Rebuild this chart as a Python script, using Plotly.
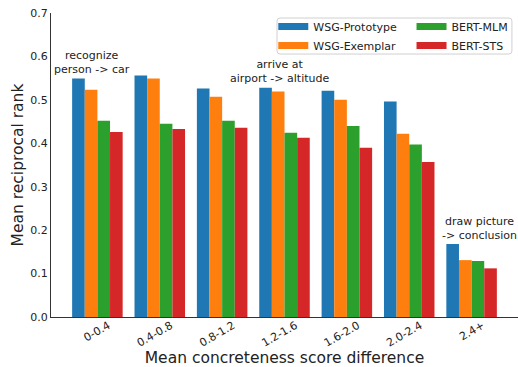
import plotly.graph_objects as go

categories = ["0-0.4", "0.4-0.8", "0.8-1.2", "1.2-1.6", "1.6-2.0", "2.0-2.4", "2.4+"]
wsg_prototype = [0.549, 0.556, 0.526, 0.528, 0.521, 0.496, 0.168]
wsg_exemplar = [0.523, 0.549, 0.507, 0.519, 0.500, 0.422, 0.131]
bert_mlm = [0.452, 0.445, 0.452, 0.424, 0.440, 0.397, 0.129]
bert_sts = [0.426, 0.433, 0.436, 0.413, 0.390, 0.357, 0.112]
series_names = ["WSG-Prototype", "WSG-Exemplar", "BERT-MLM", "BERT-STS"]
series_colors = ["#1f77b4", "#ff7f0e", "#2ca02c", "#d62728"]
y_ticks = [0.0, 0.1, 0.2, 0.3, 0.4, 0.5, 0.6, 0.7]
notes = [("recognize<br>person -> car", 0), ("arrive at<br>airport -> altitude", 3),
         ("draw picture<br>-> conclusion", 6)]
note_shift = [-0.08, -0.08, 0.125]

FONT = "DejaVu Sans"
fig = go.Figure()
legend_ids = ["legend", "legend", "legend2", "legend2"]
for name, vals, col, lg in zip(series_names, [wsg_prototype, wsg_exemplar, bert_mlm, bert_sts],
                               series_colors, legend_ids):
    fig.add_trace(go.Bar(x=list(range(len(categories))), y=vals, name=name, showlegend=False,
                         marker=dict(color=col, line=dict(width=0))))
    # legend entry drawn as a flat patch like matplotlib's
    fig.add_trace(go.Scatter(x=[None], y=[None], mode="lines", name=name, legend=lg,
                             line=dict(color=col, width=7)))

for (txt, idx), sh in zip(notes, note_shift):
    fig.add_annotation(x=idx + sh, y=wsg_prototype[idx] + 0.001, text=txt, showarrow=False,
                       xref="x", yref="y", yanchor="bottom", xanchor="center",
                       font=dict(family=FONT, size=11, color="#222"))

# legend frame with rounded corners
x0, x1, y0, y1 = 0.484, 0.987, 0.865, 0.9835
rx, ry = 0.0065, 0.01
path = (f"M{x0+rx},{y1} L{x1-rx},{y1} Q{x1},{y1} {x1},{y1-ry} L{x1},{y0+ry} Q{x1},{y0} {x1-rx},{y0} "
        f"L{x0+rx},{y0} Q{x0},{y0} {x0},{y0+ry} L{x0},{y1-ry} Q{x0},{y1} {x0+rx},{y1} Z")
fig.add_shape(type="path", xref="paper", yref="paper", path=path,
              line=dict(color="#d0d0d0", width=1), fillcolor="rgba(255,255,255,0.8)", layer="above")

leg_common = dict(orientation="v", yanchor="top", xanchor="left", bgcolor="rgba(0,0,0,0)",
                  borderwidth=0, font=dict(family=FONT, size=11, color="#222"), tracegroupgap=0,
                  itemwidth=30)
fig.update_layout(
    width=518, height=367,
    margin=dict(l=51, r=0, t=13, b=50),
    paper_bgcolor="white", plot_bgcolor="white",
    barmode="group", bargap=0.19, bargroupgap=0,
    font=dict(family=FONT, size=11, color="#222"),
    legend=dict(x=0.476, y=1.003, **leg_common),
    legend2=dict(x=0.772, y=1.003, **leg_common),
    xaxis=dict(range=[-0.744, 6.744], tickmode="array", tickvals=list(range(len(categories))),
               ticktext=categories, tickangle=-30, ticks="", showgrid=False, zeroline=False,
               showline=True, linecolor="#333", linewidth=1, automargin=False, ticklabelshift=11,
               ticklabelstandoff=-3,
               title=dict(text="Mean concreteness score difference", font=dict(family=FONT, size=15.5)),
               tickfont=dict(family=FONT, size=11)),
    yaxis=dict(range=[0, 0.7], tickmode="array", tickvals=y_ticks, automargin=True,
               ticktext=[f"{v:.1f}" for v in y_ticks], ticks="", showgrid=False, zeroline=False,
               showline=True, linecolor="#333", linewidth=1,
               title=dict(text="Mean reciprocal rank", font=dict(family=FONT, size=15.5), standoff=2),
               tickfont=dict(family=FONT, size=11)),
)
fig.write_html("out.html", config={"displayModeBar": False},
               post_script="document.body.style.margin='0';document.body.style.overflow='hidden';")
